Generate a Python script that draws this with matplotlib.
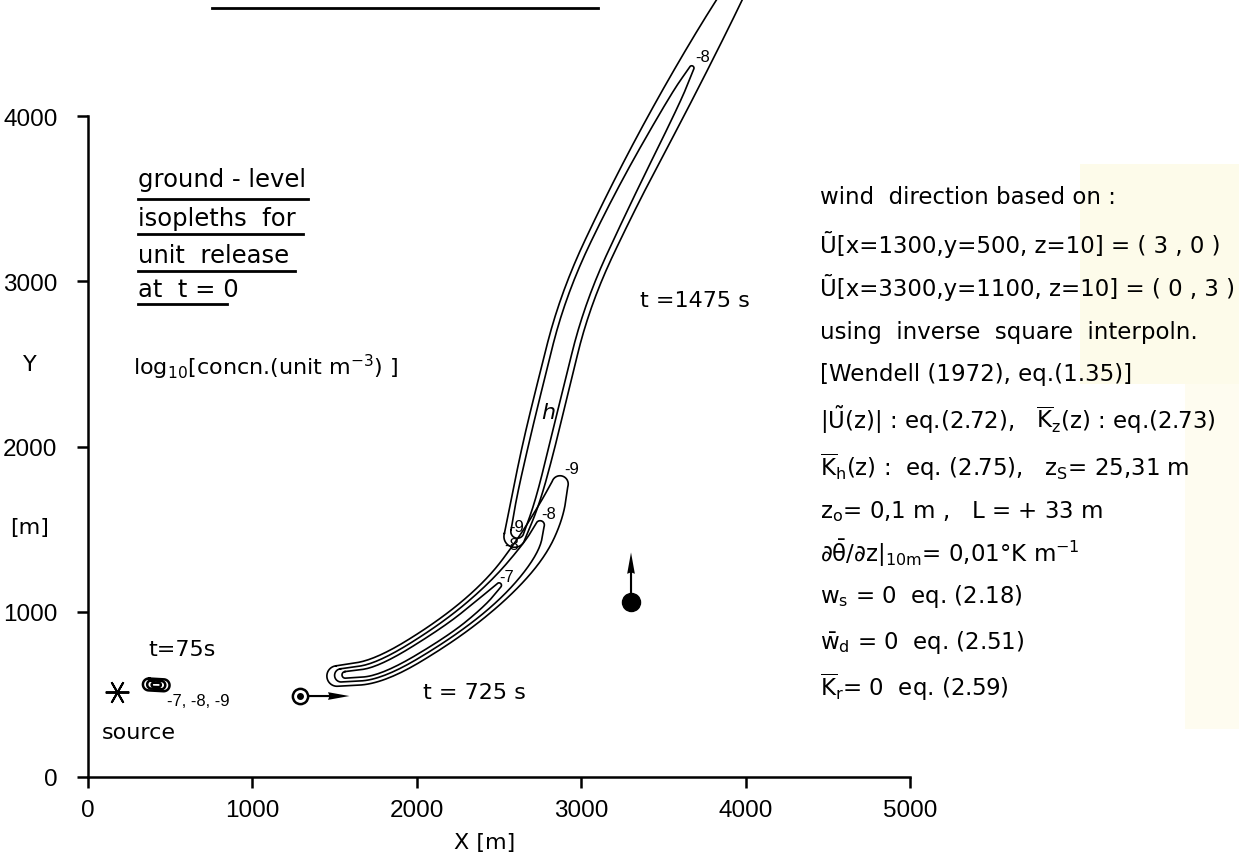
import numpy as np
import matplotlib
matplotlib.use("Agg")
import matplotlib.pyplot as plt
from matplotlib.lines import Line2D
from matplotlib.patches import Rectangle

# ---------------- data ----------------
x_ticks = [0, 1000, 2000, 3000, 4000, 5000]
y_ticks = [0, 1000, 2000, 3000, 4000]

# wind observations (position, vector in m/s)
wind_x = [1290, 3303]
wind_y = [490, 1059]
wind_u = [3, 0]
wind_v = [0, 3]

source_x = [176]
source_y = [514]

# puff at t = 75 s (tiny, levels -9, -8, -7)
p0_m9_x = [370, 460]; p0_m9_y = [560, 555]; p0_m9_w = [36, 36]
p0_m8_x = [385, 445]; p0_m8_y = [560, 556]; p0_m8_w = [25, 25]
p0_m7_x = [400, 430]; p0_m7_y = [558, 557]; p0_m7_w = [13, 13]

# puff at t = 725 s : centre line (tail -> tip) and half-widths [m]
p1_m9_x = [1515, 1776, 2184, 2488, 2695, 2810, 2871]
p1_m9_y = [611, 638, 884, 1132, 1380, 1592, 1773]
p1_m9_w = [62, 75, 78, 85, 100, 85, 50]
p1_m8_x = [1540, 1776, 2184, 2488, 2695, 2750]
p1_m8_y = [615, 638, 884, 1132, 1380, 1525]
p1_m8_w = [40, 50, 54, 60, 55, 26]
p1_m7_x = [1565, 1776, 2184, 2400, 2500]
p1_m7_y = [618, 638, 884, 1060, 1160]
p1_m7_w = [20, 26, 30, 28, 15]

# puff at t = 1475 s
p2_m9_x = [2595, 2664, 2737, 2810, 2962, 3248, 3571, 3905, 4118]
p2_m9_y = [1455, 1682, 1985, 2287, 2893, 3498, 4103, 4708, 5071]
p2_m9_w = [65, 88, 98, 98, 96, 97, 97, 72, 30]
p2_m8_x = [2612, 2664, 2737, 2810, 2962, 3248, 3571, 3672]
p2_m8_y = [1485, 1682, 1985, 2287, 2893, 3498, 4103, 4290]
p2_m8_w = [40, 58, 62, 62, 62, 58, 38, 14]

# contour labels
lab_text = ["-8", "-9", "-8", "-7", "-9", "-8"]
lab_x = [3741, 2944, 2804, 2549, 2609, 2575]
lab_y = [4363, 1864, 1592, 1216, 1513, 1405]

time_labels = ["t=75s", "t = 725 s", "t =1475 s"]
time_x = [365, 2040, 3360]
time_y = [775, 515, 2885]

right_lines = [
    "wind  direction based on :",
    "Ũ[x=1300,y=500, z=10] = ( 3 , 0 )",
    "Ũ[x=3300,y=1100, z=10] = ( 0 , 3 )",
    "using  inverse  square  interpoln.",
    "[Wendell (1972), eq.(1.35)]",
    r"$\mathregular{|\tilde{U}(z)|}$ : eq.(2.72),   $\mathregular{\overline{K}_z}$(z) : eq.(2.73)",
    r"$\mathregular{\overline{K}_h}$(z) :  eq. (2.75),   $\mathregular{z_S}$= 25,31 m",
    r"$\mathregular{z_o}$= 0,1 m ,   L = + 33 m",
    r"$\mathregular{\partial\bar{\theta}/\partial z|_{10m}}$= 0,01°K m$\mathregular{^{-1}}$",
    r"$\mathregular{w_s}$ = 0  eq. (2.18)",
    r"$\mathregular{\bar{w}_d}$ = 0  eq. (2.51)",
    r"$\mathregular{\overline{K}_r}$= 0  eq. (2.59)",
]
right_y_px = [198, 245, 288, 333, 375, 420, 467, 512, 553, 597, 643, 687]

left_lines = ["ground - level", "isopleths  for", "unit  release", "at  t = 0"]
left_y_px = [180, 219, 256, 290]
left_ul_y = [200, 235, 272, 305]
left_ul_x1 = [308, 303, 295, 227]

# ---------------- helpers ----------------
W, H = 1239, 854
def fx(px):
    return px / W
def fy(py):
    return 1 - py / H

def chaikin(P, it=4):
    for _ in range(it):
        Q = 0.75 * P[:-1] + 0.25 * P[1:]
        R = 0.25 * P[:-1] + 0.75 * P[1:]
        new = np.empty((2 * len(Q), P.shape[1]))
        new[0::2] = Q
        new[1::2] = R
        P = np.vstack([P[:1], new, P[-1:]])
    return P

def tube(cx, cy, hw):
    P = chaikin(np.column_stack([cx, cy, hw]).astype(float))
    x, y, w = P.T
    dx = np.gradient(x); dy = np.gradient(y)
    L = np.hypot(dx, dy)
    nx, ny = -dy / L, dx / L
    left = np.column_stack([x + nx * w, y + ny * w])
    right = np.column_stack([x - nx * w, y - ny * w])
    a1 = np.arctan2(dy[-1], dx[-1])
    t1 = np.linspace(np.pi / 2, -np.pi / 2, 25) + a1
    cap1 = np.column_stack([x[-1] + w[-1] * np.cos(t1), y[-1] + w[-1] * np.sin(t1)])
    a0 = np.arctan2(dy[0], dx[0])
    t0 = np.linspace(-np.pi / 2, -3 * np.pi / 2, 25) + a0
    cap0 = np.column_stack([x[0] + w[0] * np.cos(t0), y[0] + w[0] * np.sin(t0)])
    pts = np.vstack([left, cap1, right[::-1], cap0, left[:1]])
    return pts[:, 0], pts[:, 1]

# ---------------- figure ----------------
plt.rcParams['font.family'] = ['DejaVu Sans']
plt.rcParams['mathtext.fontset'] = 'dejavusans'
fig = plt.figure(figsize=(W / 100, H / 100), dpi=100)
fig.patch.set_facecolor('white')

# faint yellowish tint of the scan
fig.add_artist(Rectangle((fx(1080), fy(385)), fx(1239) - fx(1080), fy(165) - fy(385),
                         transform=fig.transFigure, color='#fdfbea', zorder=0, lw=0))
fig.add_artist(Rectangle((fx(1185), fy(730)), fx(1239) - fx(1185), fy(385) - fy(730),
                         transform=fig.transFigure, color='#fefcf0', zorder=0, lw=0))

ax = fig.add_axes([fx(88), 1 - 778 / H, (910 - 88) / W, (778 - 117) / H])
ax.set_facecolor('none')
ax.set_xlim(0, 5000)
ax.set_ylim(0, 4000)
for s in ['top', 'right']:
    ax.spines[s].set_visible(False)
for s in ['left', 'bottom']:
    ax.spines[s].set_linewidth(1.8)
ax.set_xticks(x_ticks)
ax.set_yticks(y_ticks)
tick_font = ['Liberation Sans', 'DejaVu Sans']
ax.set_xticklabels([str(v) for v in x_ticks], family=tick_font, fontsize=17.5)
ax.set_yticklabels([str(v) for v in y_ticks], family=tick_font, fontsize=17.5)
ax.tick_params(axis='both', direction='out', length=8, width=1.8)
ax.tick_params(axis='x', pad=8)
ax.tick_params(axis='y', pad=14)

lw_c = 1.2
for cx, cy, cw in [(p1_m9_x, p1_m9_y, p1_m9_w), (p1_m8_x, p1_m8_y, p1_m8_w),
                   (p1_m7_x, p1_m7_y, p1_m7_w),
                   (p2_m9_x, p2_m9_y, p2_m9_w), (p2_m8_x, p2_m8_y, p2_m8_w)]:
    X, Y = tube(cx, cy, cw)
    ax.plot(X, Y, color='black', lw=lw_c, clip_on=False, solid_joinstyle='round')
for cx, cy, cw in [(p0_m9_x, p0_m9_y, p0_m9_w), (p0_m8_x, p0_m8_y, p0_m8_w),
                   (p0_m7_x, p0_m7_y, p0_m7_w)]:
    X, Y = tube(cx, cy, cw)
    ax.plot(X, Y, color='black', lw=1.8, clip_on=False)

for t, x, y in zip(lab_text, lab_x, lab_y):
    ax.text(x, y, t, fontsize=12, ha='center', va='center', family=tick_font)
ax.text(2798, 2209, "h", fontsize=16, style='italic', ha='center', va='center')

# source
ax.plot(source_x, source_y, marker=(6, 2, 90), ms=17, mew=1.4, color='black', ls='none')

# wind arrows
ax.quiver(wind_x, wind_y, wind_u, wind_v, angles='xy', scale_units='xy', scale=0.01,
          width=0.0026, headwidth=3.6, headlength=10, headaxislength=9.5,
          color='black', zorder=4)
ax.plot(wind_x[:1], wind_y[:1], 'o', ms=11, mfc='white', mec='black', mew=1.8, zorder=5)
ax.plot(wind_x[:1], wind_y[:1], 'o', ms=4, color='black', zorder=6)
ax.plot(wind_x[1:], wind_y[1:], 'o', ms=13, color='black', zorder=5)

for t, x, y in zip(time_labels, time_x, time_y):
    ax.text(x, y, t, fontsize=16, ha='left', va='center')

# text blocks
for s, py in zip(right_lines, right_y_px):
    fig.text(fx(820), fy(py), s, fontsize=16.5, ha='left', va='center')

for s, py, uy, ux1 in zip(left_lines, left_y_px, left_ul_y, left_ul_x1):
    fig.text(fx(138), fy(py), s, fontsize=17.5, ha='left', va='center')
    fig.add_artist(Line2D([fx(138), fx(ux1)], [fy(uy), fy(uy)], color='black', lw=2,
                          transform=fig.transFigure))

fig.text(fx(133), fy(367), r"log$\mathregular{_{10}}$[concn.(unit m$\mathregular{^{-3}}$) ]",
         fontsize=16, ha='left', va='center')
fig.text(fx(30), fy(365), "Y", fontsize=16, ha='center', va='center')
fig.text(fx(30), fy(528), "[m]", fontsize=16, ha='center', va='center')
fig.text(fx(485), fy(843), "X [m]", fontsize=16, ha='center', va='center')
fig.text(fx(102), fy(733), "source", fontsize=16, ha='left', va='center')
fig.text(fx(167), fy(702), "-7, -8, -9", fontsize=12, ha='left', va='center', family=tick_font)

# underline of a heading cut off at the top of the page
fig.add_artist(Line2D([fx(212), fx(598)], [fy(9), fy(9)], color='black', lw=2,
                      transform=fig.transFigure))

fig.savefig("out.png", dpi=100, facecolor='white')
